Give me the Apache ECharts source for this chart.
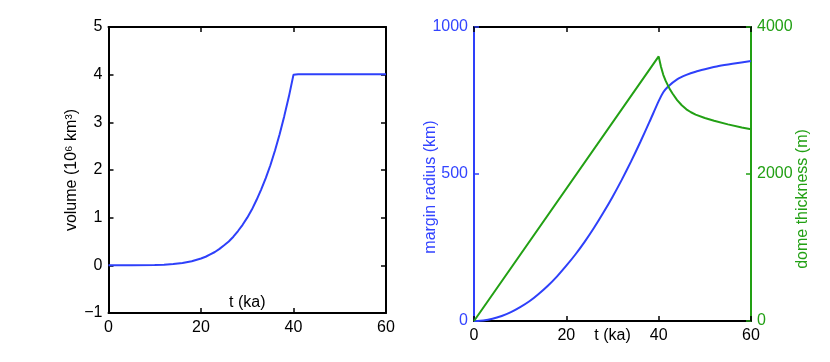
<!DOCTYPE html>
<html><head><meta charset="utf-8">
<script src="https://cdn.jsdelivr.net/npm/echarts@6/dist/echarts.min.js"></script>
<style>html,body{margin:0;padding:0;background:#fff}#c{width:830px;height:362px}</style>
</head><body><div id="c"></div>
<script>
// Left panel: ice volume (10^6 km^3) vs time (ka)
const volT = [0,5,10,12,14,16,18,20,21,22,23,24,25,26,27,28,29,30,31,32,33,34,35,36,37,38,39,40,41,45,50,55,60];
const volV = [0,0,0.005,0.012,0.026,0.049,0.087,0.144,0.18,0.23,0.28,0.345,0.42,0.5,0.6,0.72,0.85,1.0,1.17,1.37,1.59,1.83,2.1,2.41,2.75,3.13,3.54,4.0,4.01,4.01,4.01,4.01,4.01];
// Right panel: margin radius (km)
const radT = [0,2,4,6,8,10,12,14,16,18,20,22,24,26,28,30,32,34,36,38,40,41,42,44,46,48,50,53,56,60];
const radV = [0,2,7.5,17,30,47,67,92,120,152,188,227,270,317,368,422,480,542,608,677,748,778,797,822,837,848,856,867,875,884];
// Right panel: dome thickness (m)
const domeT = [0,40,40.5,41,41.5,42,42.5,43,44,45,46,47,48,50,52,55,58,60];
const domeV = [0,3600,3460,3350,3270,3205,3145,3095,3005,2935,2880,2840,2808,2762,2725,2675,2632,2608];
// Tick settings
const xTicks = {min:0, max:60, interval:20};
const volTicks = {min:-1, max:5, interval:1};
const radTicks = {min:0, max:1000, interval:500};
const domeTicks = {min:0, max:4000, interval:2000};

const pair = (t, v) => t.map((x, i) => [x, v[i]]);
const BLUE = '#2e40fa', BLUE_T = '#3344ff', GREEN = '#22a014', BLACK = '#000';
const FONT = 'Liberation Sans';
const FS = 16;
const fmt = v => String(v).replace('-', '\u2212');

function axLine(c){ return {show:true, onZero:false, lineStyle:{color:c, width:2}}; }
function ticks(c){ return {show:true, inside:true, length:5, lineStyle:{color:c, width:1.5}}; }
function lbl(c, show){ return {show:show, color:c, fontFamily:FONT, fontSize:FS, margin:6, formatter:fmt}; }

const chart = echarts.init(document.getElementById('c'), null, {renderer:'canvas'});
chart.setOption({
  animation:false,
  backgroundColor:'#fff',
  grid:[
    {left:108.5, right:444, top:27, bottom:49},
    {left:474, right:79, top:27, bottom:41}
  ],
  xAxis:[
    {type:'value', gridIndex:0, position:'bottom', ...xTicks, splitLine:{show:false},
     axisLine:axLine(BLACK), axisTick:ticks(BLACK), axisLabel:{...lbl(BLACK,true), margin:7},
     name:'t (ka)', nameLocation:'middle', nameGap:-18, nameMoveOverlap:false,
     nameTextStyle:{color:BLACK, fontFamily:FONT, fontSize:FS}},
    {type:'value', gridIndex:0, position:'top', ...xTicks, splitLine:{show:false},
     axisLine:axLine(BLACK), axisTick:ticks(BLACK), axisLabel:{show:false}},
    {type:'value', gridIndex:1, position:'bottom', ...xTicks, splitLine:{show:false},
     axisLine:axLine(BLACK), axisTick:ticks(BLACK), axisLabel:{...lbl(BLACK,true), margin:7},
     name:'t (ka)', nameLocation:'middle', nameGap:7, nameMoveOverlap:false,
     nameTextStyle:{color:BLACK, fontFamily:FONT, fontSize:FS}},
    {type:'value', gridIndex:1, position:'top', ...xTicks, splitLine:{show:false},
     axisLine:axLine(BLACK), axisTick:ticks(BLACK), axisLabel:{show:false}}
  ],
  yAxis:[
    {type:'value', gridIndex:0, position:'left', ...volTicks, splitLine:{show:false},
     axisLine:axLine(BLACK), axisTick:ticks(BLACK), axisLabel:lbl(BLACK,true),
     name:'volume (10\u2076 km\u00b3)', nameLocation:'middle', nameGap:29, nameRotate:90, nameMoveOverlap:false,
     nameTextStyle:{color:BLACK, fontFamily:FONT, fontSize:FS}},
    {type:'value', gridIndex:0, position:'right', ...volTicks, splitLine:{show:false},
     axisLine:axLine(BLACK), axisTick:ticks(BLACK), axisLabel:{show:false}},
    {type:'value', gridIndex:1, position:'left', ...radTicks, splitLine:{show:false},
     axisLine:axLine(BLUE), axisTick:ticks(BLUE), axisLabel:lbl(BLUE_T,true),
     name:'margin radius (km)', nameLocation:'middle', nameGap:35, nameRotate:90, nameMoveOverlap:false,
     nameTextStyle:{color:BLUE_T, fontFamily:FONT, fontSize:FS, padding:[0,26,0,0]}},
    {type:'value', gridIndex:1, position:'right', ...domeTicks, splitLine:{show:false},
     axisLine:axLine(GREEN), axisTick:ticks(GREEN), axisLabel:lbl(GREEN,true),
     name:'dome thickness (m)', nameLocation:'middle', nameGap:44, nameRotate:90, nameMoveOverlap:false,
     nameTextStyle:{color:GREEN, fontFamily:FONT, fontSize:FS, padding:[0,50,0,0]}}
  ],
  series:[
    {type:'line', xAxisIndex:0, yAxisIndex:0, data:pair(volT, volV), showSymbol:false,
     smooth:false, lineStyle:{color:BLUE, width:2}, z:3},
    {type:'line', xAxisIndex:2, yAxisIndex:2, data:pair(radT, radV), showSymbol:false,
     smooth:0.2, lineStyle:{color:BLUE, width:2}, z:3},
    {type:'line', xAxisIndex:2, yAxisIndex:3, data:pair(domeT, domeV), showSymbol:false,
     smooth:false, lineStyle:{color:GREEN, width:2}, z:3}
  ]
});
</script></body></html>
